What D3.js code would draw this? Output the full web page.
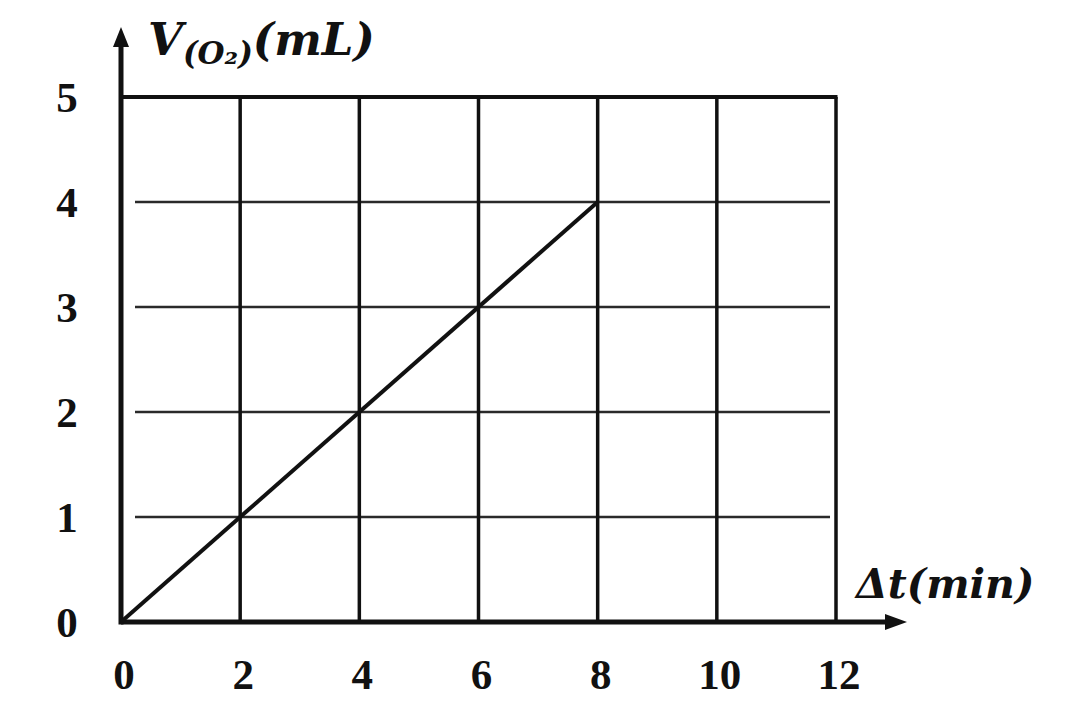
<!DOCTYPE html>
<html><head><meta charset="utf-8">
<script src="https://cdn.jsdelivr.net/npm/d3@7"></script>
<style>body{margin:0;background:#fff}svg{display:block}</style>
</head><body>
<script>
const xTicks = [0, 2, 4, 6, 8, 10, 12];
const yTicks = [0, 1, 2, 3, 4, 5];
const lineX = [0, 8];
const lineY = [0, 4];
const xLabel = "Δt(min)";

const W = 1080, H = 707;
const svg = d3.select("body").append("svg").attr("width", W).attr("height", H);
const x = d3.scaleLinear().domain([0, 12]).range([121, 836]);
const y = d3.scaleLinear().domain([0, 5]).range([622, 97]);
const ink = "#111";

// horizontal grid (1..4 thinner)
svg.append("g").selectAll("line").data(yTicks.filter(d => d > 0 && d < 5)).join("line")
  .attr("x1", x(0) + 14).attr("x2", x(12) - 6)
  .attr("y1", d => y(d)).attr("y2", d => y(d))
  .attr("stroke", "#2a2a2a").attr("stroke-width", 2.6);
// top border
svg.append("line").attr("x1", x(0)).attr("x2", x(12) + 1.5).attr("y1", y(5)).attr("y2", y(5))
  .attr("stroke", ink).attr("stroke-width", 3.8);
// vertical grid
svg.append("g").selectAll("line").data(xTicks.filter(d => d > 0)).join("line")
  .attr("x1", d => x(d)).attr("x2", d => x(d))
  .attr("y1", y(5)).attr("y2", y(0))
  .attr("stroke", ink).attr("stroke-width", 3.5);

// axes
svg.append("line").attr("x1", x(0)).attr("x2", 890).attr("y1", y(0)).attr("y2", y(0))
  .attr("stroke", ink).attr("stroke-width", 5);
svg.append("line").attr("x1", x(0)).attr("x2", x(0)).attr("y1", y(0) + 2.5).attr("y2", 42)
  .attr("stroke", ink).attr("stroke-width", 5);
// arrowheads
svg.append("path").attr("d", `M${x(0)},27 L${x(0) - 8},47 L${x(0) + 8},47 Z`).attr("fill", ink);
svg.append("path").attr("d", `M907,${y(0)} L885,${y(0) - 8} L885,${y(0) + 8} Z`).attr("fill", ink);

// data line
svg.append("path").datum(lineX.map((v, i) => [v, lineY[i]]))
  .attr("d", d3.line().x(d => x(d[0])).y(d => y(d[1])))
  .attr("fill", "none").attr("stroke", ink).attr("stroke-width", 4);

// tick labels
const tickFont = "'Liberation Serif', 'Times New Roman', serif";
svg.append("g").selectAll("text").data(yTicks).join("text")
  .attr("x", 67).attr("y", d => y(d) + 15)
  .attr("text-anchor", "middle")
  .attr("font-family", tickFont).attr("font-weight", "bold").attr("font-size", 43)
  .attr("fill", ink).text(d => d);
svg.append("g").selectAll("text").data(xTicks).join("text")
  .attr("x", d => x(d) + 3).attr("y", 689)
  .attr("text-anchor", "middle")
  .attr("font-family", tickFont).attr("font-weight", "bold").attr("font-size", 43)
  .attr("fill", ink).text(d => d);

// axis titles
const titleFont = "'DejaVu Serif', serif";
const yt = svg.append("text").attr("x", 148).attr("y", 55)
  .attr("font-family", titleFont).attr("font-weight", "bold").attr("font-style", "italic")
  .attr("font-size", 45).attr("fill", ink);
yt.append("tspan").text("V");
yt.append("tspan").attr("font-size", 31).attr("dy", 9).text("(O₂)");
yt.append("tspan").attr("dy", -9).text("(mL)");

svg.append("text").attr("x", 856).attr("y", 598)
  .attr("font-family", titleFont).attr("font-weight", "bold").attr("font-style", "italic")
  .attr("font-size", 41).attr("fill", ink).text(xLabel);
</script>
</body></html>
